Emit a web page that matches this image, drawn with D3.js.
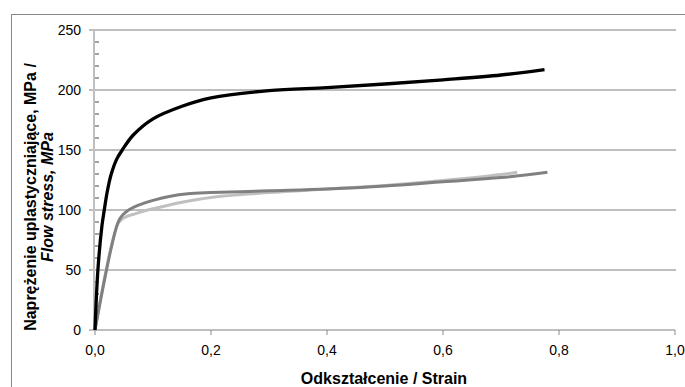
<html>
<head>
<script src="https://d3js.org/d3.v7.min.js"></script>
<style>
  body { margin: 0; background: #fff; }
  text { font-family: "Liberation Sans", Arial, sans-serif; fill: #000; }
  .tick-label { font-size: 14px; }
  .axis-title { font-size: 16px; font-weight: bold; }
</style>
</head>
<body>
<script>
// strain / stress
var blackStrain = [0, 0.005, 0.012, 0.016, 0.021, 0.028, 0.037, 0.047, 0.066, 0.1, 0.15, 0.2, 0.3, 0.4, 0.5, 0.6, 0.7, 0.775];
var blackStress = [0, 50, 87, 100, 115, 130, 142, 150, 162.5, 176, 186.5, 193.5, 199.5, 202, 205, 208.5, 212.5, 217];

var darkStrain = [0, 0.04, 0.048, 0.058, 0.075, 0.1, 0.13, 0.16, 0.2, 0.3, 0.4, 0.5, 0.6, 0.7, 0.78];
var darkStress = [0, 90, 96, 100, 104, 108, 111.5, 113.5, 114.5, 116, 117.5, 120, 123.5, 127, 131.5];

var lightStrain = [0, 0.04, 0.05, 0.07, 0.1, 0.15, 0.2, 0.3, 0.4, 0.5, 0.6, 0.7, 0.728];
var lightStress = [0, 89, 93.5, 97, 101, 106.5, 110.5, 114.5, 117.5, 120.5, 124.5, 129.5, 131.5];

var xTicks = [0, 0.2, 0.4, 0.6, 0.8, 1.0];
var yTicks = [0, 50, 100, 150, 200, 250];
var yMinorTicks = d3.range(0, 251, 10);

var series = [
    {strain: lightStrain, stress: lightStress, color: "#c0c0c0", w: 3},
    {strain: darkStrain, stress: darkStress, color: "#808080", w: 3},
    {strain: blackStrain, stress: blackStress, color: "#000000", w: 3.3}
];

var width = 685, height = 387;

var svg = d3.select("body").append("svg")
    .attr("width", width)
    .attr("height", height);

// outer chart border
svg.append("rect")
    .attr("x", 11.5).attr("y", 14.5)
    .attr("width", 700).attr("height", 400)
    .attr("fill", "none")
    .attr("stroke", "#888")
    .attr("stroke-width", 1);

var x = d3.scaleLinear().domain([0, 1]).range([95, 675]);
var y = d3.scaleLinear().domain([0, 250]).range([330, 30]);

var fmt = function (d) { return d3.format(".1f")(d).replace(".", ","); };

// gridlines
svg.selectAll(".grid")
    .data(yTicks.filter(function (d) { return d > 0; }))
    .enter().append("line")
    .attr("class", "grid")
    .attr("x1", 89).attr("x2", x(1) + 1)
    .attr("y1", function (d) { return y(d); })
    .attr("y2", function (d) { return y(d); })
    .attr("stroke", "#7f7f7f")
    .attr("stroke-width", 1.2);

// y minor ticks (inside)
svg.selectAll(".minor")
    .data(yMinorTicks.filter(function (d) { return d % 50 !== 0; }))
    .enter().append("line")
    .attr("x1", 94).attr("x2", 99)
    .attr("y1", function (d) { return y(d); })
    .attr("y2", function (d) { return y(d); })
    .attr("stroke", "#666")
    .attr("stroke-width", 1.2);

// y axis line
svg.append("line")
    .attr("x1", 94).attr("x2", 94)
    .attr("y1", y(250) - 1).attr("y2", y(0))
    .attr("stroke", "#c0c0c0")
    .attr("stroke-width", 2);

// x axis line and ticks
svg.append("line")
    .attr("x1", 89).attr("x2", x(1))
    .attr("y1", y(0)).attr("y2", y(0))
    .attr("stroke", "#bfbfbf")
    .attr("stroke-width", 2);

svg.selectAll(".xtick")
    .data(xTicks)
    .enter().append("line")
    .attr("x1", function (d) { return x(d); })
    .attr("x2", function (d) { return x(d); })
    .attr("y1", y(0)).attr("y2", y(0) + 5)
    .attr("stroke", "#888")
    .attr("stroke-width", 1);

svg.selectAll(".xlabel")
    .data(xTicks)
    .enter().append("text")
    .attr("class", "tick-label")
    .attr("x", function (d) { return x(d); })
    .attr("y", 355)
    .attr("text-anchor", "middle")
    .text(fmt);

svg.selectAll(".ylabel")
    .data(yTicks)
    .enter().append("text")
    .attr("class", "tick-label")
    .attr("x", 81)
    .attr("y", function (d) { return y(d) + 5; })
    .attr("text-anchor", "end")
    .text(function (d) { return d; });

// curves
var line = d3.line()
    .x(function (d) { return x(d[0]); })
    .y(function (d) { return y(d[1]); })
    .curve(d3.curveCatmullRom.alpha(0.5));

series.forEach(function (s) {
    var pts = s.strain.map(function (v, i) { return [v, s.stress[i]]; });
    svg.append("path")
        .datum(pts)
        .attr("d", line)
        .attr("fill", "none")
        .attr("stroke", s.color)
        .attr("stroke-width", s.w)
        .attr("stroke-linejoin", "round");
});

// axis titles
svg.append("text")
    .attr("class", "axis-title")
    .attr("x", 384).attr("y", 384)
    .attr("text-anchor", "middle")
    .text("Odkształcenie  / Strain");

var yTitle = svg.append("text")
    .attr("class", "axis-title")
    .attr("transform", "translate(36,197) rotate(-90)")
    .attr("text-anchor", "middle");
yTitle.append("tspan")
    .attr("x", 0).attr("dy", 0)
    .text("Naprężenie uplastyczniające,  MPa /");
yTitle.append("tspan")
    .attr("x", 0).attr("dy", 17)
    .attr("font-style", "italic")
    .text("Flow stress, MPa");
</script>
</body>
</html>
